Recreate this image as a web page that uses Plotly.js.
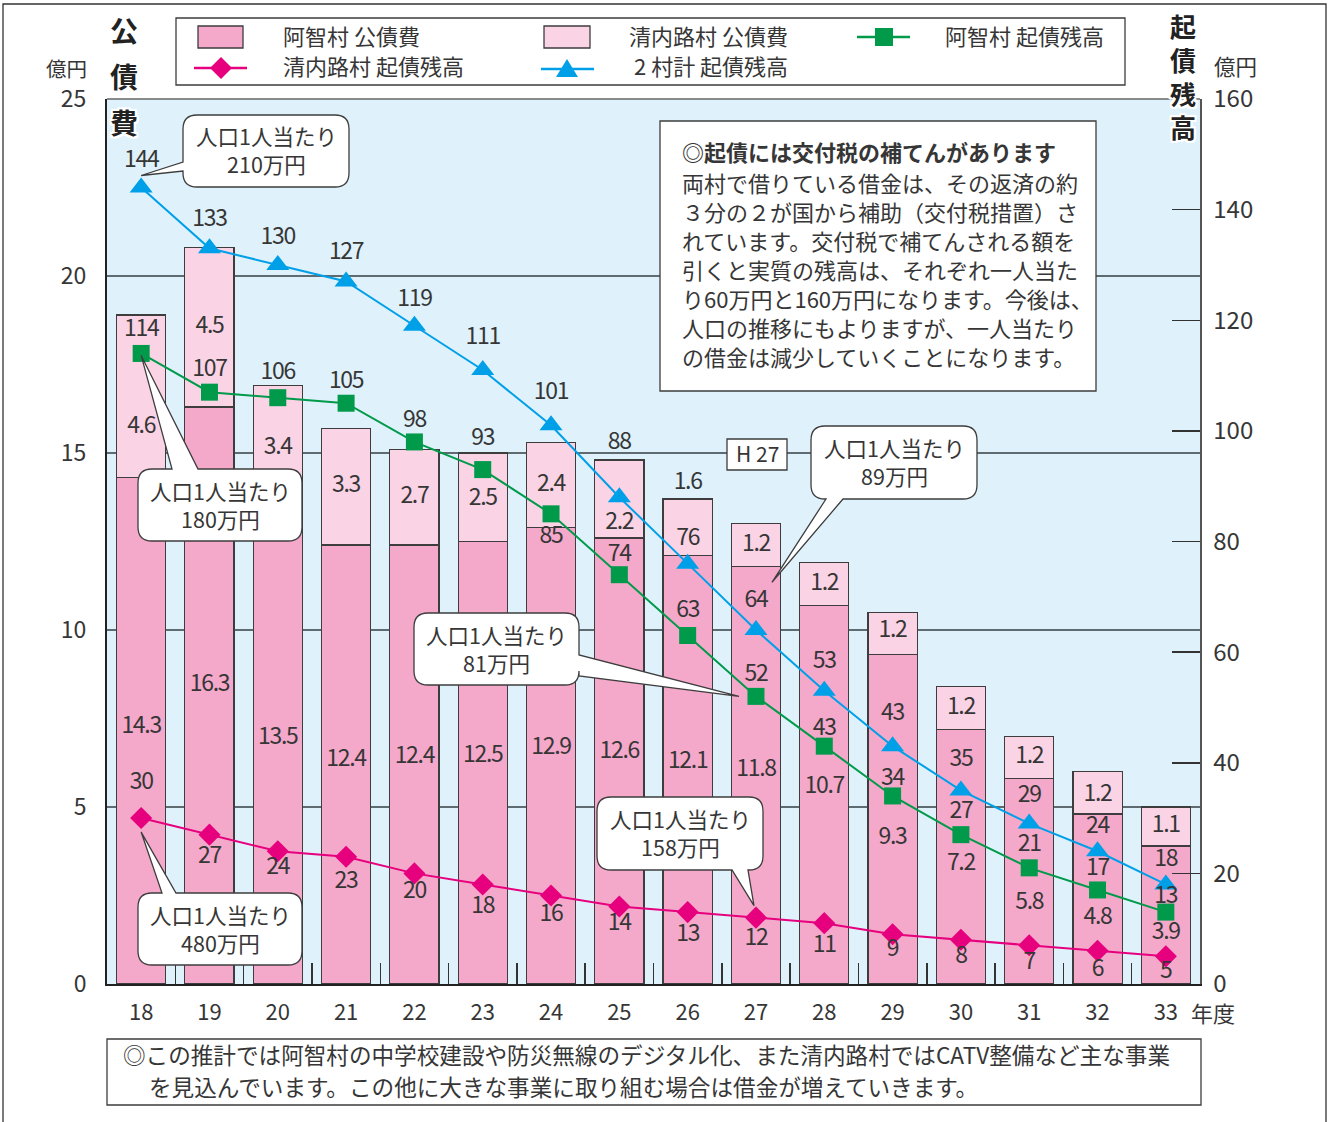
<!DOCTYPE html>
<html>
<head>
<meta charset="utf-8">
<script src="https://cdn.plot.ly/plotly-3.0.1.min.js"></script>
<style>
html,body{margin:0;padding:0;background:#fff}
/* 数値ラベルは詰め気味に */
#chart .textpoint text{letter-spacing:-1.3px}
</style>
</head>
<body>
<div id="chart" style="width:1330px;height:1122px"></div>
<script>
// 年度（平成）
const years = ['18','19','20','21','22','23','24','25','26','27','28','29','30','31','32','33'];
// 公債費（億円）
const achiDebtService = [14.3,16.3,13.5,12.4,12.4,12.5,12.9,12.6,12.1,11.8,10.7,9.3,7.2,5.8,4.8,3.9];
const seinaijiDebtService = [4.6,4.5,3.4,3.3,2.7,2.5,2.4,2.2,1.6,1.2,1.2,1.2,1.2,1.2,1.2,1.1];
// 起債残高（億円）
const achiBalance = [114,107,106,105,98,93,85,74,63,52,43,34,27,21,17,13];
const seinaijiBalance = [30,27,24,23,20,18,16,14,13,12,11,9,8,7,6,5];
const totalBalance = [144,133,130,127,119,111,101,88,76,64,53,43,35,29,24,18];
// 軸目盛
const leftTicks = [0,5,10,15,20,25];
const rightTicks = [0,20,40,60,80,100,120,140,160];

// 値ラベルの上下ずらし（px、上が正）
const achiLabelShift = [4,10,7,4,7,7,7,9,8,5,7,-19,-8,-22,-19,-18];
const seinaijiLabelShift = [-31,0,-2,0,0,-2,0,-24,44,0,0,2,0,0,-2,0];
const totalLabelShift = [26,28,27,28,26,32,32,54,24,29,29,32,30,27,24,24];
const achiBalLabelShift = [23,22,24,21,21,30,-23,19,24,21,17,17,22,23,21,15];
const seinaijiBalLabelShift = [35,-23,-17,-25,-19,-23,-20,-18,-23,-22,-23,-16,-17,-18,-19,-16];

const C_ACHI_BAR = '#f4a8ca';
const C_SEI_BAR = '#fad3e5';
const C_GREEN = '#009a4a';
const C_MAGENTA = '#e6007e';
const C_BLUE = '#00a0e9';
const C_TEXT = '#363636';
const C_EDGE = '#3d3d3d';

const JP = '"Noto Sans CJK JP", "Noto Sans", sans-serif';
const NUM = '"Liberation Sans Narrow", "Arial Narrow", "Noto Sans CJK JP", sans-serif';

// プロット領域（px）
const W = 1330, H = 1122;
const PL = 107, PR = 1200, PT = 99, PB = 984;
const LEFT_MAX = 25, RIGHT_MAX = 160;
const fx = px => (px - PL) / (PR - PL);
const fy = py => (PB - py) / (PB - PT);
const xPix = i => PL + (i + 0.5) * (PR - PL) / years.length;
const yLeftPix = v => PB - v / LEFT_MAX * (PB - PT);
const yRightPix = v => PB - v / RIGHT_MAX * (PB - PT);
const P = (x, y) => fx(x).toFixed(5) + ',' + fy(y).toFixed(5);
// px のずらし量を軸の値に換算
const leftUnits = px => px * LEFT_MAX / (PB - PT);
const rightUnits = px => px * RIGHT_MAX / (PB - PT);

function labelTrace(yvals, texts, axis) {
  return {type:'scatter', mode:'text', x:years, y:yvals, text:texts, yaxis:axis,
    textposition:'middle center', cliponaxis:false, showlegend:false, hoverinfo:'skip',
    textfont:{family:NUM, size:23, color:C_TEXT}};
}

const traces = [
  {type:'bar', name:'阿智村 公債費', x:years, y:achiDebtService,
   marker:{color:C_ACHI_BAR, line:{color:C_EDGE, width:1.2}}, hoverinfo:'skip'},
  {type:'bar', name:'清内路村 公債費', x:years, y:seinaijiDebtService,
   marker:{color:C_SEI_BAR, line:{color:C_EDGE, width:1.2}}, hoverinfo:'skip'},
  {type:'scatter', mode:'lines+markers', name:'阿智村 起債残高', x:years, y:achiBalance, yaxis:'y2',
   line:{color:C_GREEN, width:2}, marker:{symbol:'square', size:17, color:C_GREEN}, hoverinfo:'skip'},
  {type:'scatter', mode:'lines+markers', name:'清内路村 起債残高', x:years, y:seinaijiBalance, yaxis:'y2',
   line:{color:C_MAGENTA, width:2}, marker:{symbol:'diamond', size:17, color:C_MAGENTA}, hoverinfo:'skip'},
  {type:'scatter', mode:'lines+markers', name:'2村計 起債残高', x:years, y:totalBalance, yaxis:'y2',
   line:{color:C_BLUE, width:2}, marker:{symbol:'triangle-up', size:20, color:C_BLUE}, hoverinfo:'skip'},
  // 残高の値
  labelTrace(totalBalance.map((v, i) => v + rightUnits(totalLabelShift[i])), totalBalance.map(String), 'y2'),
  labelTrace(achiBalance.map((v, i) => v + rightUnits(achiBalLabelShift[i])), achiBalance.map(String), 'y2'),
  labelTrace(seinaijiBalance.map((v, i) => v + rightUnits(seinaijiBalLabelShift[i])), seinaijiBalance.map(String), 'y2'),
  // 公債費の値（棒の中）
  labelTrace(achiDebtService.map((v, i) => v / 2 + leftUnits(achiLabelShift[i])), achiDebtService.map(String), 'y3'),
  labelTrace(seinaijiDebtService.map((v, i) => achiDebtService[i] + v / 2 + leftUnits(seinaijiLabelShift[i])),
    seinaijiDebtService.map(String), 'y3')
];

const shapes = [];
const annotations = [];

function paperRect(x0, y0, x1, y1, opts) {
  shapes.push(Object.assign({type:'rect', xref:'paper', yref:'paper',
    x0:fx(x0), x1:fx(x1), y0:fy(y1), y1:fy(y0), layer:'above',
    line:{color:C_EDGE, width:1.3}, fillcolor:'rgba(0,0,0,0)'}, opts || {}));
}
function paperPath(d, opts) {
  shapes.push(Object.assign({type:'path', xref:'paper', yref:'paper', path:d, layer:'above',
    line:{color:C_EDGE, width:1.3}, fillcolor:'#ffffff'}, opts || {}));
}
function paperText(text, x, y, opts) {
  const o = opts || {};
  annotations.push({xref:'paper', yref:'paper', x:fx(x), y:fy(y - 2), text:text, showarrow:false,
    xanchor:o.xanchor || 'center', yanchor:'middle', align:o.align || 'center',
    font:Object.assign({family:JP, size:22, color:C_TEXT}, o.font || {})});
}

// 吹き出し（角丸＋しっぽ）
function callout(b, tail, lines) {
  const r = 14;
  const {x0, y0, x1, y1} = b;
  const tip = P(tail.tip[0], tail.tip[1]);
  let d = 'M' + P(x0 + r, y0);
  if (tail.side === 'top') d += ' L' + P(tail.a, y0) + ' L' + tip + ' L' + P(tail.b, y0);
  d += ' L' + P(x1 - r, y0) + ' Q' + P(x1, y0) + ' ' + P(x1, y0 + r);
  if (tail.side === 'right') d += ' L' + P(x1, tail.a) + ' L' + tip + ' L' + P(x1, tail.b);
  d += ' L' + P(x1, y1 - r) + ' Q' + P(x1, y1) + ' ' + P(x1 - r, y1);
  if (tail.side === 'bottom') d += ' L' + P(tail.b, y1) + ' L' + tip + ' L' + P(tail.a, y1);
  d += ' L' + P(x0 + r, y1) + ' Q' + P(x0, y1) + ' ' + P(x0, y1 - r);
  if (tail.side === 'left') d += ' L' + P(x0, tail.b) + ' L' + tip + ' L' + P(x0, tail.a);
  d += ' L' + P(x0, y0 + r) + ' Q' + P(x0, y0) + ' ' + P(x0 + r, y0) + ' Z';
  paperPath(d);
  paperText(lines.join('<br>'), (x0 + x1) / 2, (y0 + y1) / 2 + 1, {font:{size:21.5}});
}

const i27 = years.indexOf('27');
callout({x0:183, y0:115, x1:349, y1:187},
  {side:'left', a:162, b:171, tip:[xPix(0), yRightPix(totalBalance[0]) - 12]},
  ['人口1人当たり', '210万円']);
callout({x0:138, y0:469, x1:302, y1:541},
  {side:'top', a:172, b:198, tip:[xPix(0), yRightPix(achiBalance[0]) + 2]},
  ['人口1人当たり', '180万円']);
callout({x0:138, y0:893, x1:302, y1:965},
  {side:'top', a:162, b:176, tip:[xPix(0), yRightPix(seinaijiBalance[0]) + 14]},
  ['人口1人当たり', '480万円']);
callout({x0:414, y0:613, x1:579, y1:685},
  {side:'right', a:655, b:676, tip:[xPix(i27) - 17, yRightPix(achiBalance[i27])]},
  ['人口1人当たり', '81万円']);
callout({x0:597, y0:797, x1:763, y1:870},
  {side:'bottom', a:732, b:748, tip:[xPix(i27) - 2, yRightPix(seinaijiBalance[i27]) - 12]},
  ['人口1人当たり', '158万円']);
callout({x0:811, y0:426, x1:977, y1:499},
  {side:'bottom', a:826, b:843, tip:[xPix(i27) + 16, yLeftPix(achiDebtService[i27]) + 16]},
  ['人口1人当たり', '89万円']);

// H27 目印
paperRect(727, 439, 787, 470, {fillcolor:'#ffffff'});
paperText('H 27', 757, 455, {font:{family:JP, size:21}});

// 説明ボックス
paperRect(660, 121, 1096, 391, {fillcolor:'#ffffff'});
const noteLines = [
  '両村で借りている借金は、その返済の約',
  '３分の２が国から補助（交付税措置）さ',
  'れています。交付税で補てんされる額を',
  '引くと実質の残高は、それぞれ一人当た',
  'り60万円と160万円になります。今後は、',
  '人口の推移にもよりますが、一人当たり',
  'の借金は減少していくことになります。'
];
paperText('◎起債には交付税の補てんがあります', 680, 153, {xanchor:'left', font:{weight:'bold'}});
noteLines.forEach((t, k) => paperText(t, 680, 184 + k * 29, {xanchor:'left'}));

// 下部の注記
paperRect(107, 1039, 1201, 1105);
paperText('◎この推計では阿智村の中学校建設や防災無線のデジタル化、また清内路村ではCATV整備など主な事業',
  121, 1056, {xanchor:'left', font:{size:22.6}});
paperText('を見込んでいます。この他に大きな事業に取り組む場合は借金が増えていきます。',
  147, 1088, {xanchor:'left', font:{size:22.6}});

// 凡例
paperRect(176, 18, 1125, 85, {fillcolor:'#ffffff'});
paperRect(198, 26, 243, 48, {fillcolor:C_ACHI_BAR});
paperRect(544, 26, 590, 48, {fillcolor:C_SEI_BAR});
shapes.push({type:'line', xref:'paper', yref:'paper', x0:fx(194), x1:fx(247), y0:fy(68), y1:fy(68), layer:'above', line:{color:C_MAGENTA, width:2.5}});
paperPath('M' + P(210, 68) + ' L' + P(221, 57) + ' L' + P(232, 68) + ' L' + P(221, 79) + ' Z', {fillcolor:C_MAGENTA, line:{width:0}});
shapes.push({type:'line', xref:'paper', yref:'paper', x0:fx(541), x1:fx(594), y0:fy(69), y1:fy(69), layer:'above', line:{color:C_BLUE, width:2.5}});
paperPath('M' + P(556, 77) + ' L' + P(567, 59) + ' L' + P(578, 77) + ' Z', {fillcolor:C_BLUE, line:{width:0}});
shapes.push({type:'line', xref:'paper', yref:'paper', x0:fx(857), x1:fx(910), y0:fy(37), y1:fy(37), layer:'above', line:{color:C_GREEN, width:2.5}});
paperRect(875, 28, 893, 46, {fillcolor:C_GREEN, line:{width:0}});
paperText(traces[0].name, 281, 37, {xanchor:'left'});
paperText(traces[3].name, 281, 67, {xanchor:'left'});
paperText(traces[1].name, 627, 37, {xanchor:'left'});
paperText('2 村計 起債残高', 632, 67, {xanchor:'left'});
paperText(traces[2].name, 943, 37, {xanchor:'left'});

// 枠線
paperRect(3, 4, 1326, 1140, {line:{color:'#333', width:1.3}});
shapes.push({type:'line', xref:'paper', yref:'paper', x0:0, x1:1, y0:1, y1:1, layer:'above', line:{color:'#666', width:1.5}});

// 軸タイトル
const halo = '2px 0 0 #fff, -2px 0 0 #fff, 0 2px 0 #fff, 0 -2px 0 #fff, 2px 2px 0 #fff, -2px -2px 0 #fff, 2px -2px 0 #fff, -2px 2px 0 #fff';
['公', '債', '費'].forEach((ch, k) => paperText(ch, 124, 32 + k * 46, {font:{size:28, weight:'bold', color:'#222', shadow:halo}}));
paperText('起<br>債<br>残<br>高', 1183, 78, {font:{size:26, weight:'bold', color:'#222', shadow:halo}});
paperText('億円', 66, 70, {font:{size:20.5}});
paperText('億円', 1235, 67, {font:{size:21.5}});
paperText('年度', 1213, 1014, {font:{size:22}});

const layout = {
  width:W, height:H,
  margin:{l:PL, r:W - PR, t:PT, b:H - PB, autoexpand:false},
  paper_bgcolor:'#ffffff', plot_bgcolor:'#dff1fb',
  barmode:'stack', bargap:0.28,
  showlegend:false,
  font:{family:JP, color:C_TEXT},
  xaxis:{type:'category', range:[-0.5, 15.5], ticks:'inside', tickson:'boundaries', ticklen:21,
    tickwidth:1.5, tickcolor:'#333', showline:true, linecolor:'#222', linewidth:2, showgrid:false,
    tickfont:{family:NUM, size:22, color:C_TEXT}, ticklabelstandoff:8, fixedrange:true},
  yaxis:{range:[0, LEFT_MAX], tickvals:leftTicks, showgrid:true, gridcolor:'#5e6b70', gridwidth:1.5,
    zeroline:false, showline:true, linecolor:'#222', linewidth:2, ticks:'',
    tickfont:{family:NUM, size:23, color:C_TEXT}, ticklabelstandoff:14, fixedrange:true},
  yaxis2:{overlaying:'y', side:'right', range:[0, RIGHT_MAX], tickvals:rightTicks, ticks:'inside', ticklen:28,
    tickwidth:1.5, tickcolor:'#333', showgrid:false, zeroline:false, showline:true, linecolor:'#555',
    linewidth:1.5, tickfont:{family:NUM, size:24, color:C_TEXT}, ticklabelstandoff:7, fixedrange:true},
  yaxis3:{overlaying:'y', range:[0, LEFT_MAX], visible:false, fixedrange:true},
  shapes:shapes,
  annotations:annotations
};

Plotly.newPlot('chart', traces, layout, {staticPlot:true, displayModeBar:false});
</script>
</body>
</html>
